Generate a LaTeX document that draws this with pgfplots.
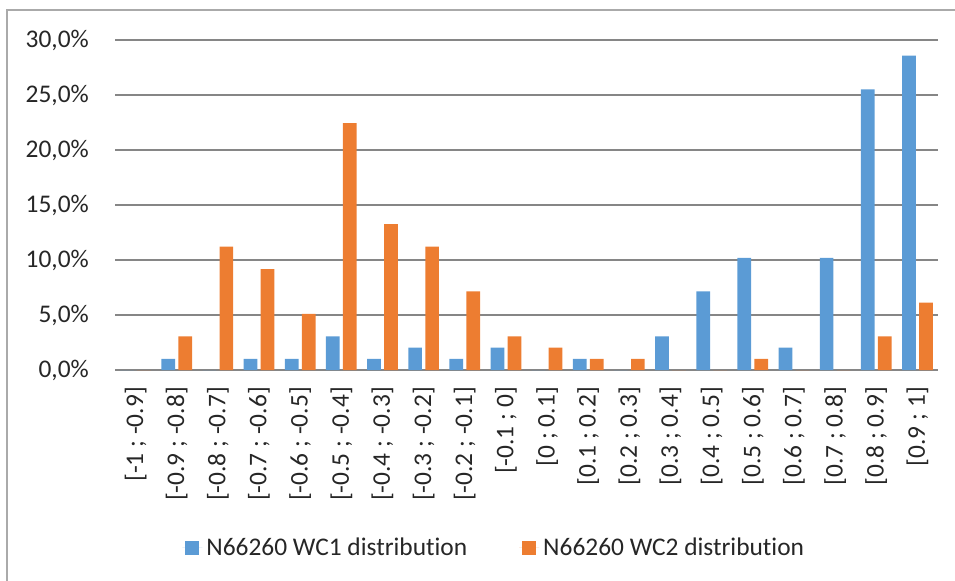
\documentclass[border=0pt]{standalone}
\usepackage{pgfplots}
\pgfplotsset{compat=1.18}
\usepackage{fontspec}
\setmainfont{Carlito}[Ligatures=NoCommon]
\definecolor{cblue}{RGB}{91,155,213}
\definecolor{corange}{RGB}{237,125,49}
\definecolor{gridgray}{RGB}{134,134,134}
\definecolor{bordergray}{RGB}{170,170,170}
\newcommand{\lf}{\fontsize{25.5}{30}\selectfont}
\begin{document}
\begin{tikzpicture}
\path[use as bounding box] (0,0) rectangle (955bp,-581bp);
\draw[bordergray, line width=2bp] (7bp,-585bp) -- (7bp,-10bp) -- (960bp,-10bp);
\begin{axis}[
  at={(115bp,-370bp)}, anchor=south west,
  scale only axis, width=823bp, height=330bp,
  ybar, bar width=13.7bp,
  xmin=-0.5, xmax=19.5, ymin=0, ymax=30,
  axis line style={draw=none},
  major tick length=0pt,
  ymajorgrids, grid style={gridgray, line width=1.2bp},
  ytick={0,5,10,15,20,25,30},
  yticklabels={{0,0\%},{5,0\%},{10,0\%},{15,0\%},{20,0\%},{25,0\%},{30,0\%}},
  xtick={0,...,19},
  xticklabels={{[-1 ; -0.9]},{[-0.9 ; -0.8]},{[-0.8 ; -0.7]},{[-0.7 ; -0.6]},{[-0.6 ; -0.5]},{[-0.5 ; -0.4]},{[-0.4 ; -0.3]},{[-0.3 ; -0.2]},{[-0.2 ; -0.1]},{[-0.1 ; 0]},{[0 ; 0.1]},{[0.1 ; 0.2]},{[0.2 ; 0.3]},{[0.3 ; 0.4]},{[0.4 ; 0.5]},{[0.5 ; 0.6]},{[0.6 ; 0.7]},{[0.7 ; 0.8]},{[0.8 ; 0.9]},{[0.9 ; 1]}},
  tick label style={font=\lf, text=black!85},
  yticklabel style={anchor=east, inner sep=0pt, xshift=-26bp},
  xticklabel style={rotate=90, anchor=east, inner sep=0pt},
  xticklabel shift=17bp,
  legend columns=2,
  legend style={at={(axis description cs:0.462,-0.539)}, anchor=center, draw=none, font=\lf, text=black!85,
    /tikz/every even column/.append style={column sep=48bp},
    nodes={inner sep=4bp}},
  legend image code/.code={\fill[#1,draw=none] (0bp,-7bp) rectangle (14bp,7bp);\path (-3bp,0) -- (17bp,0);},
]
\addplot[fill=cblue, draw=none, bar shift=-8.5bp] coordinates {
(0,0) (1,1.02) (2,0) (3,1.02) (4,1.02) (5,3.06) (6,1.02) (7,2.04) (8,1.02) (9,2.04)
(10,0) (11,1.02) (12,0) (13,3.06) (14,7.14) (15,10.20) (16,2.04) (17,10.20) (18,25.51) (19,28.57)};
\addlegendentry{N66260 WC1 distribution}
\addplot[fill=corange, draw=none, bar shift=8.5bp] coordinates {
(0,0) (1,3.06) (2,11.22) (3,9.18) (4,5.10) (5,22.45) (6,13.27) (7,11.22) (8,7.14) (9,3.06)
(10,2.04) (11,1.02) (12,1.02) (13,0) (14,0) (15,1.02) (16,0) (17,0) (18,3.06) (19,6.12)};
\addlegendentry{N66260 WC2 distribution}
\end{axis}
\end{tikzpicture}
\end{document}
